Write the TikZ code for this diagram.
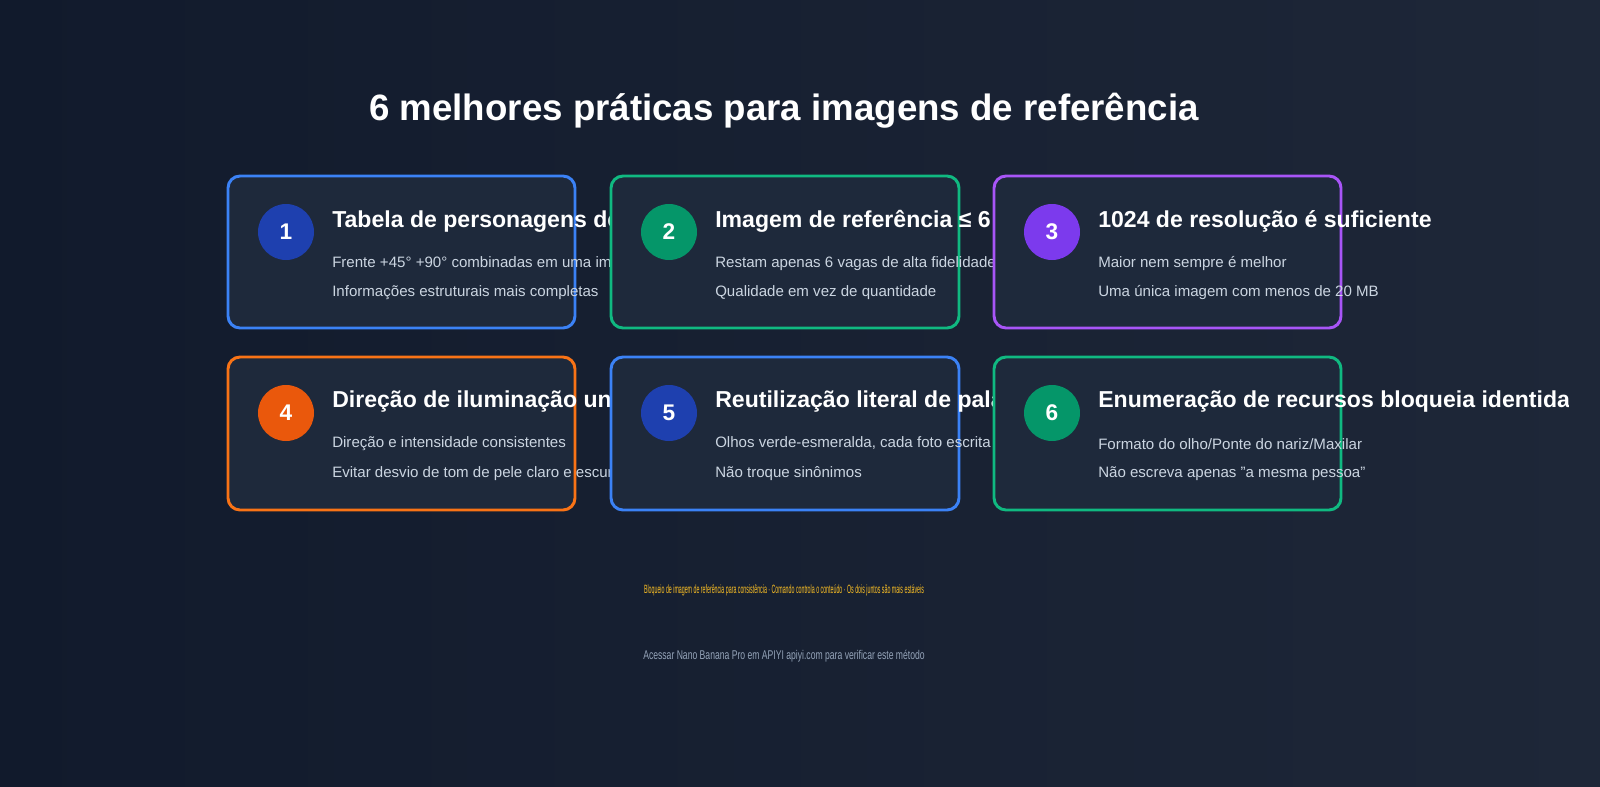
\documentclass[tikz,border=0pt]{standalone}
\usepackage{fontspec}
\setmainfont{Liberation Sans}
\definecolor{bgA}{HTML}{111A2C}
\definecolor{bgB}{HTML}{1E2738}
\definecolor{card}{HTML}{1E293B}
\definecolor{cblue}{HTML}{3B82F6}
\definecolor{cgreen}{HTML}{10B981}
\definecolor{cpurple}{HTML}{A855F7}
\definecolor{corange}{HTML}{F97316}
\definecolor{dblue}{HTML}{1E40AF}
\definecolor{dgreen}{HTML}{059669}
\definecolor{dpurple}{HTML}{7C3AED}
\definecolor{dorange}{HTML}{EA580C}
\definecolor{desc}{HTML}{CBD5E1}
\definecolor{foot}{HTML}{94A3B8}
\definecolor{gold}{HTML}{FBBF24}
\begin{document}
\begin{tikzpicture}[x=0.75pt,y=-0.75pt,
  cardbox/.style={draw=#1,line width=2.2pt,fill=card,rounded corners=9pt},
  numc/.style={circle,fill=#1,minimum size=42pt,inner sep=0pt,text=white,font=\bfseries\fontsize{17}{20}\selectfont},
  ttl/.style={anchor=west,text=white,font=\bfseries\fontsize{17.3}{20}\selectfont,inner sep=0pt},
  dsc/.style={anchor=west,text=desc,font=\fontsize{11.3}{14}\selectfont,inner sep=0pt}]
\shade[left color=bgA,right color=bgB] (0,0) rectangle (1600,786);
\node[text=white,font=\bfseries\fontsize{27.5}{32}\selectfont] (title) at (784,111) {6 melhores práticas para imagens de referência};
\begin{scope}
\clip (0,0) rectangle (1568,786);
% row 1
\draw[cardbox=cblue] (228,176) rectangle (575,328);
\node[numc=dblue] (n1) at (286,232) {1};
\node[ttl] (t1) at (332,221) {Tabela de personagens de três vistas};
\node[dsc] (a1) at (332,264) {Frente +45° +90° combinadas em uma imagem};
\node[dsc] (b1) at (332,293) {Informações estruturais mais completas};
\draw[cardbox=cgreen] (611,176) rectangle (959,328);
\node[numc=dgreen] (n2) at (669,232) {2};
\node[ttl] (t2) at (715,221) {Imagem de referência ≤ 6};
\node[dsc] (a2) at (715,264) {Restam apenas 6 vagas de alta fidelidade};
\node[dsc] (b2) at (715,293) {Qualidade em vez de quantidade};
\draw[cardbox=cpurple] (994,176) rectangle (1341,328);
\node[numc=dpurple] (n3) at (1052,232) {3};
\node[ttl] (t3) at (1098,221) {1024 de resolução é suficiente};
\node[dsc] (a3) at (1098,264) {Maior nem sempre é melhor};
\node[dsc] (b3) at (1098,293) {Uma única imagem com menos de 20 MB};
% row 2
\draw[cardbox=corange] (228,357) rectangle (575,510);
\node[numc=dorange] (n4) at (286,413) {4};
\node[ttl] (t4) at (332,402) {Direção de iluminação unificada};
\node[dsc] (a4) at (332,444) {Direção e intensidade consistentes};
\node[dsc] (b4) at (332,474) {Evitar desvio de tom de pele claro e escuro};
\draw[cardbox=cblue] (611,357) rectangle (959,510);
\node[numc=dblue] (n5) at (669,413) {5};
\node[ttl] (t5) at (715,402) {Reutilização literal de palavras-chave};
\node[dsc] (a5) at (715,444) {Olhos verde-esmeralda, cada foto escrita igual};
\node[dsc] (b5) at (715,474) {Não troque sinônimos};
\draw[cardbox=cgreen] (994,357) rectangle (1341,510);
\node[numc=dgreen] (n6) at (1052,413) {6};
\node[ttl] (t6) at (1098,402) {Enumeração de recursos bloqueia identidade};
\node[dsc] (a6) at (1098,444) {Formato do olho/Ponte do nariz/Maxilar};
\node[dsc] (b6) at (1098,474) {Não escreva apenas "a mesma pessoa"};
\end{scope}
\node[text=gold,font=\fontsize{9}{11}\selectfont,xscale=0.44] (f1) at (784,590) {Bloqueio de imagem de referência para consistência · Comando controla o conteúdo · Os dois juntos são mais estáveis};
\node[text=foot,font=\fontsize{9.5}{11}\selectfont,xscale=0.68] (f2) at (784,656) {Acessar Nano Banana Pro em APIYI apiyi.com para verificar este método};
\pgfresetboundingbox
\useasboundingbox (0,0) rectangle (1600,786);
\end{tikzpicture}
\end{document}
